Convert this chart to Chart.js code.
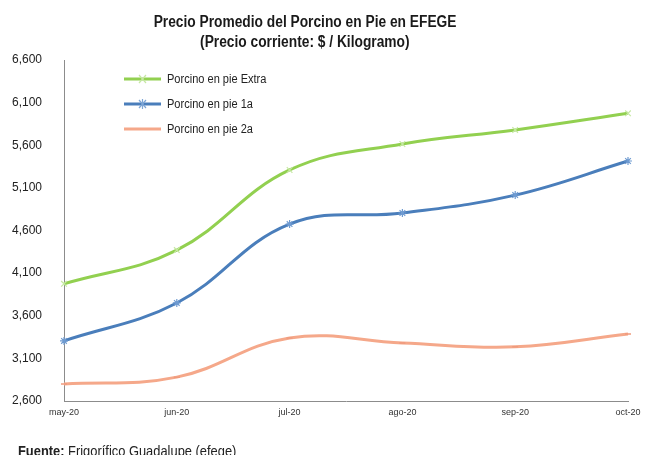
<!DOCTYPE html>
<html>
<head>
<meta charset="utf-8">
<script src="https://cdn.jsdelivr.net/npm/chart.js@4/dist/chart.umd.min.js"></script>
<style>
  html, body { margin: 0; padding: 0; background: #fff; }
  body { width: 646px; height: 455px; position: relative; overflow: hidden; font-family: "Liberation Sans", Arial, sans-serif; }
  #wrap { position: absolute; left: 0; top: 0; width: 646px; height: 455px; }
  .title { position: absolute; left: 0; width: 610px; top: 12px; text-align: center; font-weight: bold; font-size: 16px; line-height: 20px; color: #1a1a1a; }
  .title span { display: inline-block; transform: scaleX(0.86); transform-origin: center; white-space: nowrap; }
  .legend { position: absolute; left: 124px; top: 66px; font-size: 12px; color: #222; }
  .legend div { height: 25px; display: flex; align-items: center; }
  .legend svg { margin-right: 6px; }
  .legend span { display: inline-block; transform: scaleX(0.92); transform-origin: left center; white-space: nowrap; }
  .source { position: absolute; left: 18px; top: 443px; font-size: 14px; color: #222; }
  .source span { display: inline-block; transform: scaleX(0.92); transform-origin: left center; white-space: nowrap; }
</style>
</head>
<body>
<div id="wrap"><canvas id="chart" width="646" height="455"></canvas></div>
<div class="title"><span>Precio Promedio del Porcino en Pie en EFEGE</span><br><span>(Precio corriente: $ / Kilogramo)</span></div>
<div class="legend">
  <div><svg width="37" height="12"><line x1="0" y1="6" x2="37" y2="6" stroke="#92d050" stroke-width="3"/><path d="M15 2 L22 10 M22 2 L15 10" stroke="#c6e8a4" stroke-width="1.2"/></svg><span>Porcino en pie Extra</span></div>
  <div><svg width="37" height="12"><line x1="0" y1="6" x2="37" y2="6" stroke="#4a7ebb" stroke-width="3"/><path d="M15 2 L22 10 M22 2 L15 10 M18.5 1 L18.5 11" stroke="#7ea6d6" stroke-width="1.2"/></svg><span>Porcino en pie 1a</span></div>
  <div><svg width="37" height="12"><line x1="0" y1="6" x2="37" y2="6" stroke="#f5a88a" stroke-width="3"/></svg><span>Porcino en pie 2a</span></div>
</div>
<div class="source"><span><b>Fuente:</b> Frigorífico Guadalupe (efege)</span></div>
<script>
const months = ['may-20', 'jun-20', 'jul-20', 'ago-20', 'sep-20', 'oct-20'];
const extra = [3975, 4370, 5310, 5615, 5780, 5975];
const primera = [3305, 3750, 4675, 4805, 5015, 5415];
const segunda = [2800, 2880, 3340, 3280, 3235, 3385];
const yTicks = { min: 2600, max: 6600, step: 500 };

document.addEventListener('DOMContentLoaded', function () {
  const ctx = document.getElementById('chart').getContext('2d');
  new Chart(ctx, {
    type: 'line',
    data: {
      labels: months,
      datasets: [
        { label: 'Porcino en pie Extra', data: extra, borderColor: '#92d050', borderWidth: 3,
          pointStyle: 'crossRot', pointRadius: 4, pointBorderColor: '#c6e8a4', pointBorderWidth: 1.2, tension: 0.4 },
        { label: 'Porcino en pie 1a', data: primera, borderColor: '#4a7ebb', borderWidth: 3,
          pointStyle: 'star', pointRadius: 4, pointBorderColor: '#6f9bd1', pointBorderWidth: 1.2, tension: 0.4 },
        { label: 'Porcino en pie 2a', data: segunda, borderColor: '#f5a88a', borderWidth: 3,
          pointStyle: 'line', pointRadius: 3, pointBorderColor: '#ef9a7c', pointBorderWidth: 1.5, tension: 0.4 }
      ]
    },
    options: {
      responsive: false,
      animation: false,
      layout: { padding: { top: 60, right: 18, left: 0, bottom: 0 } },
      plugins: { legend: { display: false }, tooltip: { enabled: false } },
      scales: {
        x: {
          offset: false,
          grid: { display: false, drawTicks: true },
          border: { color: '#8c8c8c', width: 1 },
          ticks: { color: '#333', font: { size: 9, family: 'Liberation Sans' }, maxRotation: 0, padding: -2 },
          afterFit: (scale) => { scale.height = 54; }
        },
        y: {
          min: yTicks.min, max: yTicks.max,
          grid: { display: false },
          border: { color: '#8c8c8c', width: 1 },
          ticks: { stepSize: yTicks.step, color: '#222', font: { size: 12, family: 'Liberation Sans' }, padding: 14,
            callback: (v) => v.toLocaleString('en-US') },
          afterFit: (scale) => { scale.width = 64; }
        }
      }
    }
  });
});
</script>
</body>
</html>
